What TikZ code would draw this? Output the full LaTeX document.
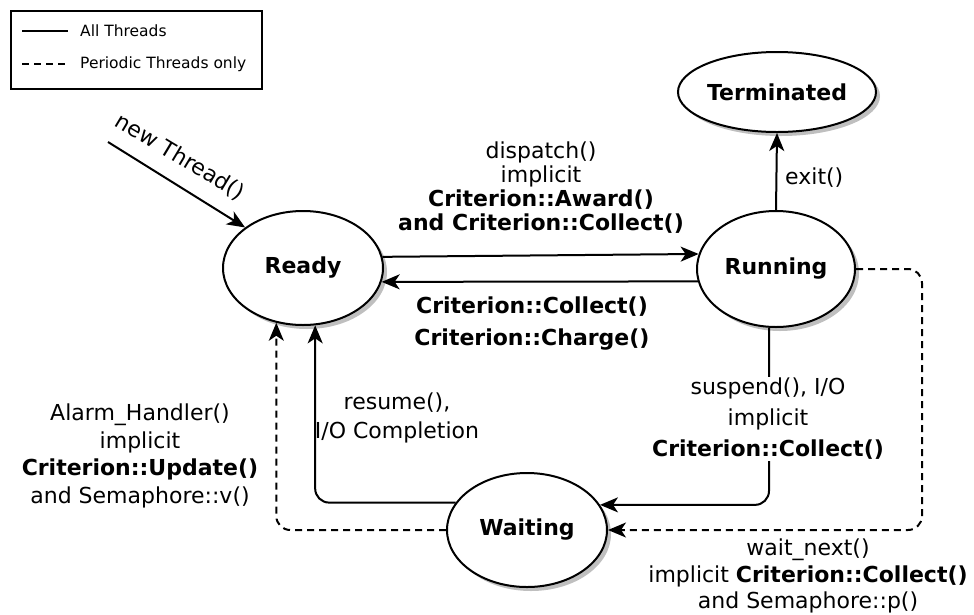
\documentclass[tikz,border=0pt]{standalone}
\usepackage{fontspec}
\setmainfont{DejaVu Sans}
\usetikzlibrary{shapes.geometric,arrows.meta,shadows}
\begin{document}
\begin{tikzpicture}[x=1pt,y=-1pt,
  state/.style={ellipse,draw,line width=2pt,fill=white,inner sep=0pt,
    font=\fontsize{22}{24}\selectfont\bfseries,
    drop shadow={shadow xshift=4pt,shadow yshift=-4pt,fill=black!25,opacity=1}},
  conn/.style={line width=2pt,rounded corners=14pt,
    -{Stealth[length=18pt,width=15pt,inset=5pt]}},
  periodic/.style={conn,dash pattern=on 7pt off 5pt},
  lbl/.style={font=\fontsize{22}{25}\selectfont,align=center,inner sep=1pt},
  legtext/.style={font=\fontsize{15.5}{18}\selectfont,anchor=west,inner sep=0pt},
]
\useasboundingbox (0,0) rectangle (974,614);

% legend
\node[draw,line width=1.6pt,minimum width=251pt,minimum height=78pt,anchor=north west] (legend) at (10,10) {};
\coordinate (solidA) at (22,31);
\coordinate (solidB) at (68,31);
\coordinate (dashA) at (22,64);
\coordinate (dashB) at (68,64);
\draw[line width=2pt] (solidA) -- (solidB);
\draw[line width=2pt,dash pattern=on 7pt off 5pt] (dashA) -- (dashB);
\node[legtext] (legAll) at (80,31) {All Threads};
\node[legtext] (legPer) at (80,64) {Periodic Threads only};

% states
\node[state,minimum width=176pt,minimum height=80pt] (term) at (777,92) {Terminated};
\node[state,minimum width=160pt,minimum height=114pt] (ready) at (303,268) {Ready};
\node[state,minimum width=158pt,minimum height=116pt] (running) at (776,269) {Running};
\node[state,minimum width=160pt,minimum height=114pt] (waiting) at (527,530) {Waiting};

% creation
\coordinate (newT) at (108,142);
\draw[conn] (newT) -- (ready.145);
\node[lbl,rotate=-31] (lNew) at (180,157) {new Thread()};

% ready <-> running
\draw[conn] (ready.8) -- (running.169);
\draw[conn] (running.189) -- (ready.-10);
\node[lbl,font=\fontsize{22}{24}\selectfont] (lDispatch) at (541,188)
  {dispatch()\\implicit\\\textbf{Criterion::Award()}\\\textbf{and Criterion::Collect()}};
\node[lbl,font=\fontsize{22}{32}\selectfont\bfseries] (lReturn) at (532,324)
  {Criterion::Collect()\\Criterion::Charge()};

% running -> terminated
\draw[conn] (running.north) -- (term.south);
\node[lbl,anchor=west] (lExit) at (784,178) {exit()};

% running -> waiting
\draw[conn] ([xshift=-7pt]running.south) |- (waiting.19);
\node[lbl,fill=white,font=\fontsize{22}{31}\selectfont] (lSuspend) at (768,419)
  {suspend(), I/O\\implicit\\\textbf{Criterion::Collect()}};
\coordinate (rightBend) at (922,400);
\draw[periodic] (running.east) -| (rightBend) |- (waiting.east);
\node[lbl,font=\fontsize{22}{26.5}\selectfont] (lWait) at (808,576)
  {wait\_next()\\implicit \textbf{Criterion::Collect()}\\and Semaphore::p()};

% waiting -> ready
\draw[conn] (waiting.159) -| (ready.282);
\draw[periodic] (waiting.west) -| (ready.244);
\node[lbl,font=\fontsize{22}{29}\selectfont] (lResume) at (397,418)
  {resume(),\\I/O Completion};
\node[lbl,font=\fontsize{22}{27.5}\selectfont] (lAlarm) at (140,456)
  {Alarm\_Handler()\\implicit\\\textbf{Criterion::Update()}\\and Semaphore::v()};
\end{tikzpicture}
\end{document}
